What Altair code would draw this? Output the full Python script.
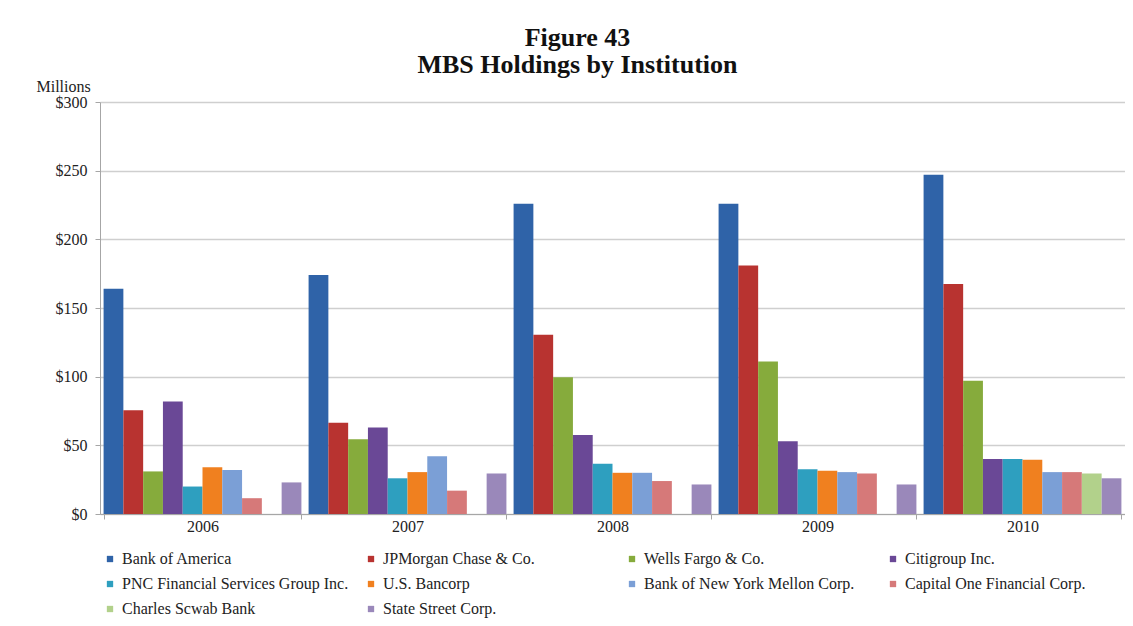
import altair as alt
import pandas as pd

years = ["2006", "2007", "2008", "2009", "2010"]
institutions = [
    "Bank of America",
    "JPMorgan Chase & Co.",
    "Wells Fargo & Co.",
    "Citigroup Inc.",
    "PNC Financial Services Group Inc.",
    "U.S. Bancorp",
    "Bank of New York Mellon Corp.",
    "Capital One Financial Corp.",
    "Charles Scwab Bank",
    "State Street Corp.",
]
bank_of_america = [164, 174, 226, 226, 247]
jpmorgan = [75.5, 66.5, 130.5, 181, 167.5]
wells_fargo = [31, 54.5, 99.5, 111, 97]
citigroup = [82, 63, 57.5, 53, 40]
pnc = [20, 26, 36.5, 32.5, 40]
us_bancorp = [34, 30.5, 30, 31.5, 39.5]
bny_mellon = [32, 42, 30, 30.5, 30.5]
capital_one = [11.5, 17, 24, 29.5, 30.5]
schwab = [None, None, None, None, 29.5]
state_street = [23, 29.5, 21.5, 21.5, 26]
series = [bank_of_america, jpmorgan, wells_fargo, citigroup, pnc,
          us_bancorp, bny_mellon, capital_one, schwab, state_street]
colors = ["#2f63a8", "#b83330", "#86ab3c", "#6a4896", "#2e9fbf",
          "#f0801f", "#7b9fd6", "#d67979", "#b2d18b", "#9a88ba"]
y_ticks = [0, 50, 100, 150, 200, 250, 300]

rows = []
for name, vals in zip(institutions, series):
    for yr, v in zip(years, vals):
        if v is not None:
            rows.append({"Year": yr, "Institution": name, "Value": v})
df = pd.DataFrame(rows)

FONT = "Liberation Serif"

chart = alt.Chart(df).mark_bar().encode(
    x=alt.X("Year:N", sort=years,
            scale=alt.Scale(paddingInner=0.035, paddingOuter=0.0175),
            axis=alt.Axis(title=None, labelAngle=0, tickBand="extent",
                          tickSize=5, tickColor="#a6a6a6", domainColor="#a6a6a6",
                          labelFont=FONT, labelFontSize=16, labelColor="#222222",
                          labelPadding=-1)),
    xOffset=alt.XOffset("Institution:N", sort=institutions,
                        scale=alt.Scale(domain=institutions, paddingInner=0, paddingOuter=0)),
    y=alt.Y("Value:Q", scale=alt.Scale(domain=[0, 300]),
            axis=alt.Axis(values=y_ticks, labelExpr="'$' + datum.value",
                          title="Millions", titleAngle=0, titleX=-64, titleY=-16,
                          titleAlign="left", titleBaseline="middle",
                          titleFont=FONT, titleFontSize=16, titleFontWeight="normal",
                          titleColor="#222222",
                          labelFont=FONT, labelFontSize=16, labelColor="#222222",
                          labelPadding=8, tickSize=5, tickColor="#a6a6a6",
                          domainColor="#a6a6a6", gridColor="#cfcfcf", gridWidth=1.3)),
    color=alt.Color("Institution:N", sort=institutions,
                    scale=alt.Scale(domain=institutions, range=colors),
                    legend=alt.Legend(title=None, orient="none", legendX=2, legendY=449,
                                      direction="horizontal",
                                      columns=4, gridAlign="all", columnPadding=14,
                                      rowPadding=9, symbolType="square", symbolSize=40,
                                      symbolStrokeWidth=0, labelFont=FONT, labelFontSize=16,
                                      labelColor="#222222", labelLimit=400, labelOffset=4)),
).properties(
    width=1025,
    height=412,
    title=alt.TitleParams(text=["Figure 43", "MBS Holdings by Institution"],
                          font=FONT, fontSize=26, fontWeight="bold", color="#111111",
                          anchor="middle", frame="group", dx=-35, offset=0, lineHeight=27),
    padding={"left": 92, "top": 94, "right": 0, "bottom": 106},
    autosize=alt.AutoSizeParams(type="none"),
).configure_view(stroke=None).configure_legend(labelFont=FONT, labelFontSize=16)

chart.save("out.html", embed_options={"renderer": "svg", "actions": False})
